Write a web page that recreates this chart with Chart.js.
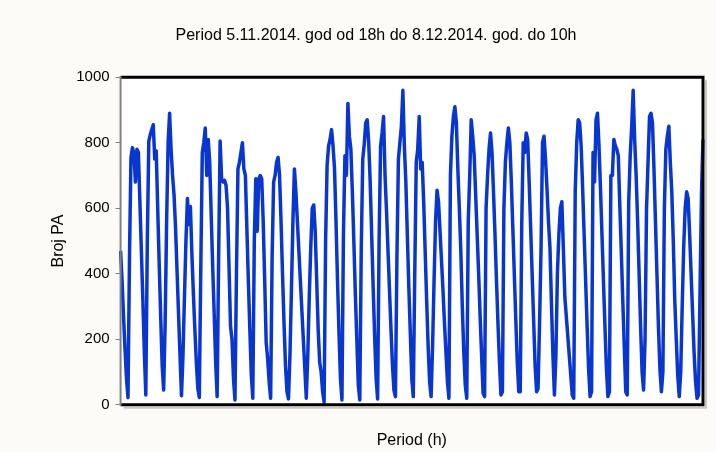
<!DOCTYPE html>
<html>
<head>
<meta charset="utf-8">
<script src="https://cdn.jsdelivr.net/npm/chart.js@4.4.1/dist/chart.umd.min.js"></script>
<style>
  html, body { margin: 0; padding: 0; background: #fcfbf7; }
  #wrap { width: 716px; height: 452px; }
</style>
</head>
<body>
<div id="wrap"><canvas id="c" width="716" height="452"></canvas></div>
<script>
// Broj PA po satu, 5.11.2014. 18h – 8.12.2014. 10h (očitano svaka 2 sata)
var naslov = 'Period 5.11.2014. god od 18h do 8.12.2014. god. do 10h';
var yNaslov = 'Broj PA';
var xNaslov = 'Period (h)';
var yTicks = [0, 200, 400, 600, 800, 1000];

// redovi: dan, vrijednosti u 0h, 2h, 4h ... 22h
var brojPA = [
  470, 380, 270,                                              // 5.11 (18h-22h)
  170, 80, 22, 450, 755, 785, 765, 680, 780, 770, 620, 470,   // 6.11
  320, 160, 30, 500, 805, 825, 840, 855, 750, 775, 600, 430,  // 7.11
  270, 120, 45, 250, 560, 800, 890, 780, 700, 640, 540, 410,  // 8.11
  280, 150, 28, 150, 330, 500, 630, 550, 605, 460, 340, 230,  // 9.11
  130, 50, 22, 420, 770, 800, 845, 700, 810, 740, 580, 420,   // 10.11
  280, 130, 25, 450, 805, 690, 680, 685, 670, 600, 420, 240,  // 11.11
  200, 80, 15, 400, 720, 740, 770, 800, 720, 700, 540, 380,   // 12.11
  230, 90, 20, 500, 690, 530, 690, 700, 690, 560, 380, 190,   // 13.11
  140, 70, 20, 450, 680, 700, 740, 755, 700, 560, 400, 250,   // 14.11
  120, 40, 18, 150, 350, 560, 720, 650, 560, 470, 380, 290,   // 15.11
  200, 110, 20, 150, 330, 480, 600, 610, 530, 380, 230, 130,  // 16.11
  100, 40, 8, 500, 730, 790, 810, 840, 790, 720, 560, 380,    // 17.11
  220, 80, 15, 520, 760, 700, 920, 820, 780, 650, 500, 340,   // 18.11
  200, 60, 15, 480, 750, 795, 860, 870, 800, 680, 520, 360,   // 19.11
  210, 80, 18, 500, 790, 830, 880, 700, 590, 470, 350, 230,   // 20.11
  120, 45, 25, 450, 750, 800, 850, 960, 790, 680, 520, 360,   // 21.11
  220, 80, 25, 400, 740, 780, 880, 720, 740, 620, 470, 320,   // 22.11
  180, 70, 25, 180, 380, 560, 655, 620, 530, 440, 350, 250,   // 23.11
  160, 70, 20, 700, 820, 880, 910, 860, 720, 600, 470, 300,   // 24.11
  160, 60, 20, 560, 700, 870, 820, 760, 640, 520, 400, 270,   // 25.11
  150, 35, 25, 600, 700, 780, 830, 770, 650, 520, 380, 250,   // 26.11
  130, 30, 40, 600, 740, 800, 845, 800, 680, 540, 400, 260,   // 27.11
  130, 40, 40, 550, 800, 770, 830, 810, 680, 540, 400, 260,   // 28.11
  120, 40, 50, 250, 480, 800, 820, 750, 660, 560, 480, 310,   // 29.11
  150, 30, 150, 400, 520, 600, 620, 480, 330, 270, 210, 150,  // 30.11
  90, 30, 20, 650, 800, 870, 860, 790, 660, 520, 380, 240,    // 1.12
  110, 25, 40, 770, 680, 870, 890, 790, 660, 520, 380, 240,   // 2.12
  110, 25, 40, 700, 700, 810, 790, 780, 760, 610, 470, 320,   // 3.12
  180, 40, 30, 620, 760, 850, 960, 810, 700, 560, 400, 240,   // 4.12
  100, 45, 200, 600, 740, 880, 890, 860, 720, 560, 400, 240,  // 5.12
  110, 40, 100, 600, 780, 820, 850, 740, 650, 500, 320, 200,  // 6.12
  90, 25, 100, 300, 480, 600, 650, 630, 520, 400, 280, 160,   // 7.12
  70, 20, 30, 350, 650, 810                                   // 8.12 (0h-10h)
];

// sat od početka perioda (korak 2h)
var sati = brojPA.map(function (v, i) { return i * 2; });

var okvir = {
  id: 'okvir',
  beforeDraw: function (chart) {
    var ctx = chart.ctx, a = chart.chartArea;
    ctx.save();
    ctx.fillStyle = '#fcfbf7';
    ctx.fillRect(0, 0, chart.width, chart.height);
    ctx.fillStyle = '#ffffff';
    ctx.fillRect(a.left, a.top, a.right - a.left, a.bottom - a.top);
    ctx.restore();
  },
  afterDraw: function (chart) {
    var ctx = chart.ctx, a = chart.chartArea;
    ctx.save();
    // sjena desno/dolje
    ctx.strokeStyle = '#c8c8c8';
    ctx.lineWidth = 2;
    ctx.beginPath();
    ctx.moveTo(a.right + 3, a.top + 3);
    ctx.lineTo(a.right + 3, a.bottom + 3);
    ctx.lineTo(a.left + 3, a.bottom + 3);
    ctx.stroke();
    ctx.strokeStyle = '#000';
    ctx.lineWidth = 3;
    ctx.beginPath();
    ctx.moveTo(a.left, a.top);
    ctx.lineTo(a.right, a.top);
    ctx.lineTo(a.right, a.bottom);
    ctx.lineTo(a.left, a.bottom);
    ctx.stroke();
    ctx.strokeStyle = '#808080';
    ctx.lineWidth = 2;
    ctx.beginPath();
    ctx.moveTo(a.left, a.top - 1);
    ctx.lineTo(a.left, a.bottom + 1);
    ctx.stroke();
    ctx.restore();
  }
};

var font = "'Liberation Sans', Arial, sans-serif";

new Chart(document.getElementById('c').getContext('2d'), {
  type: 'line',
  data: {
    labels: sati,
    datasets: [{
      data: brojPA,
      borderColor: '#0a36d0',
      borderWidth: 3.5,
      pointRadius: 0,
      tension: 0,
      borderJoinStyle: 'round',
      fill: false
    }]
  },
  options: {
    responsive: false,
    animation: false,
    layout: { padding: { left: 49, right: 13, top: 26, bottom: 2 } },
    plugins: {
      legend: { display: false },
      tooltip: { enabled: false },
      title: {
        display: true,
        text: naslov,
        color: '#000',
        font: { family: font, size: 16, weight: 'normal' },
        padding: { top: 0, bottom: 32 }
      }
    },
    scales: {
      x: {
        type: 'category',
        offset: false,
        grid: { display: false, drawTicks: false },
        border: { display: false },
        ticks: { display: false },
        title: {
          display: true,
          text: xNaslov,
          color: '#000',
          font: { family: font, size: 16 },
          padding: { top: 26, bottom: 0 }
        }
      },
      y: {
        min: 0,
        max: 1000,
        afterBuildTicks: function (s) { s.ticks = yTicks.map(function (v) { return { value: v }; }); },
        grid: { drawOnChartArea: false, color: '#808080', tickLength: 5, lineWidth: 1 },
        border: { display: false },
        ticks: {
          color: '#000',
          font: { family: font, size: 15 },
          padding: 6,
          callback: function (v) { return String(v); }
        },
        title: {
          display: true,
          text: yNaslov,
          color: '#000',
          font: { family: font, size: 16 },
          padding: { top: 0, bottom: 2 }
        }
      }
    }
  },
  plugins: [okvir]
});
</script>
</body>
</html>
